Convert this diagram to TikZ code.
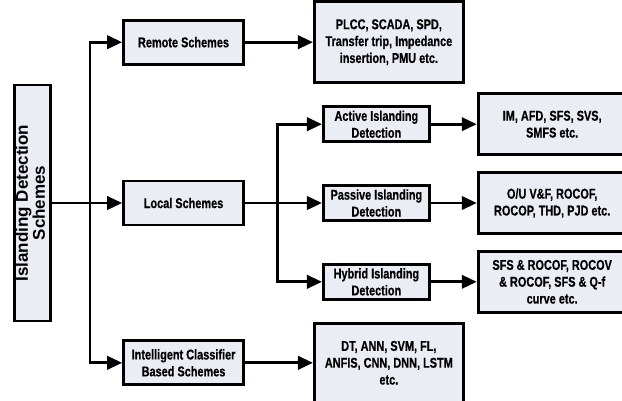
\documentclass[tikz,border=0pt]{standalone}
\usepackage{fontspec}
\setmainfont{Liberation Sans}[FakeStretch=0.77, FakeBold=0.5]
\newfontfamily\titlefont{Liberation Sans}
\usetikzlibrary{positioning, calc, arrows.meta}
\definecolor{boxfill}{HTML}{EAEDF4}

\begin{document}
\begin{tikzpicture}[ node distance=3.4cm and 2.1cm,
box/.style={rectangle, draw=black, line width=2.4pt, fill=boxfill, align=center, inner sep=1pt, font=\bfseries\fontsize{12.1}{14.4}\selectfont},
scheme/.style={box, minimum width=3.6cm, minimum height=1.32cm},
detect/.style={box, minimum width=3.18cm, minimum height=1.05cm},
method/.style={box, minimum width=4.47cm, minimum height=2.43cm},
arr/.style={line width=2.4pt, -{Triangle[length=4.5mm, width=4mm]}} ]
\useasboundingbox (0,0) rectangle (18.66,-12);
\node (S) [box, minimum width=1.05cm, minimum height=7.08cm] at (0.975,-6.09) {\rotatebox{90}{\titlefont\fontsize{14.5}{13.5}\selectfont\begin{tabular}{@{}c@{}}Islanding Detection\\Schemes\end{tabular}}};
\node (L) [scheme, right=2.1cm of S] {Local Schemes};
\node (R) [scheme, above=3.42cm of L] {Remote Schemes};
\node (C) [scheme, below=3.39cm of L] {Intelligent Classifier\\Based Schemes};
\node (Rm) [method, right=2.04cm of R] {PLCC, SCADA, SPD,\\Transfer trip, Impedance\\insertion, PMU etc.};
\node (Cm) [method, minimum height=2.37cm, right=2.04cm of C] {DT, ANN, SVM, FL,\\ANFIS, CNN, DNN, LSTM\\etc.};
\node (P) [detect, right=2.31cm of L] {Passive Islanding\\Detection};
\node (A) [detect, above=1.23cm of P] {Active Islanding\\Detection};
\node (H) [detect, below=1.23cm of P] {Hybrid Islanding\\Detection};
\node (Am) [method, minimum width=4.44cm, minimum height=1.83cm, right=1.38cm of A] {IM, AFD, SFS, SVS,\\SMFS etc.};
\node (Pm) [method, minimum width=4.44cm, minimum height=1.83cm, right=1.38cm of P] {O/U V\&F, ROCOF,\\ROCOP, THD, PJD etc.};
\node (Hm) [method, minimum width=4.44cm, minimum height=1.83cm, right=1.38cm of H] {SFS \& ROCOF, ROCOV\\\& ROCOF, SFS \& Q-f\\curve etc.};

\coordinate (t1) at ($(S.east)!0.54!(L.west)$);
\coordinate (t2) at ($(L.east)!0.42!(P.west)$);

\draw[arr] (S) -- (L);
\draw[arr] (t1) |- (R);
\draw[arr] (t1) |- (C);
\draw[arr] (L) -- (P);
\draw[arr] (t2) |- (A);
\draw[arr] (t2) |- (H);

\path (R) edge[arr] (Rm);
\path (C) edge[arr] (Cm);
\path (A) edge[arr] (Am);
\path (P) edge[arr] (Pm);
\path (H) edge[arr] (Hm);

\end{tikzpicture}
\end{document}
